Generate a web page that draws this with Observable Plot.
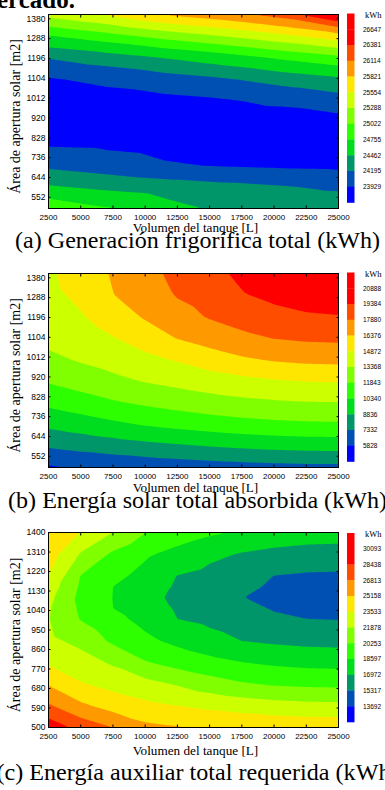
<!DOCTYPE html>
<html><head><meta charset="utf-8">
<script src="https://cdn.jsdelivr.net/npm/d3@7"></script>
<script src="https://cdn.jsdelivr.net/npm/@observablehq/plot@0.6"></script>
<style>
body{margin:0;background:#fff;}
#root{position:relative;width:385px;height:790px;overflow:hidden;background:#fff;}
#overlay{position:absolute;left:0;top:0;pointer-events:none;}
</style></head><body><div id="root"></div>
<script>
// ---------- data ----------
const volumesA = [2500, 7000, 11500, 16000, 20500, 25000];                              // Volumen del tanque [L] (panel a)
const volumes = [2500, 5000, 7500, 10000, 12500, 15000, 17500, 20000, 22500, 25000];   // Volumen del tanque [L] (panels b, c)
const areas = [500, 600, 700, 800, 900, 1000, 1100, 1200, 1300, 1400];                 // Área de apertura solar [m2] (panels a, b)
const areasC = [500, 600, 700, 800, 900, 1000, 1050, 1100, 1150, 1200, 1300, 1400];    // Área de apertura solar [m2] (panel c)

// (a) Generación frigorífica total (kWh) – rows by area, columns by volumesA
const genFrio = [
  [24978, 24780, 24580, 24400, 24390, 24380],
  [24490, 24400, 24330, 24270, 24215, 24150],
  [24136, 24050, 23955, 23910, 23885, 23870],
  [23897, 23880, 23840, 23800, 23770, 23757],
  [23779, 23770, 23765, 23770, 23790, 23830],
  [23783, 23820, 23860, 23905, 23980, 24070],
  [23908, 23990, 24080, 24170, 24290, 24413],
  [24210, 24330, 24475, 24620, 24800, 24960],
  [24740, 24920, 25120, 25290, 25480, 25707],
  [25380, 25580, 25840, 26000, 26230, 26700]
];
// (b) Energía solar total absorbida (kWh) – rows by area, columns by volumes
const solarAbs = [
  [5640, 5993, 6137, 6299, 6455, 6607, 6742, 6841, 6925, 6948],
  [7501, 7815, 8122, 8401, 8653, 8885, 9095, 9274, 9383, 9421],
  [9165, 9588, 10047, 10457, 10794, 11092, 11329, 11500, 11609, 11648],
  [10673, 11172, 11671, 12079, 12430, 12743, 12991, 13173, 13286, 13319],
  [11967, 12476, 12993, 13440, 13794, 14153, 14467, 14719, 14891, 14950],
  [13005, 13517, 13961, 14463, 15003, 15632, 16161, 16518, 16715, 16778],
  [13800, 14139, 14797, 15588, 16430, 17012, 17537, 17921, 18114, 18178],
  [14270, 14760, 15570, 16532, 17331, 17997, 18475, 18937, 19228, 19327],
  [14550, 15152, 16338, 16990, 17982, 18466, 19279, 19724, 20002, 20098],
  [14644, 15493, 16540, 17448, 18243, 18935, 19700, 20330, 20720, 20850]
];
// (c) Energía auxiliar total requerida (kWh) – rows by areasC, columns by volumes
const auxReq = [
  [29470, 27900, 26813, 25560, 25250, 25100, 24985, 24820, 24700, 24680],
  [27035, 25489, 24508, 23951, 23540, 23159, 22802, 22522, 22351, 22286],
  [25052, 23673, 23020, 22409, 21755, 21003, 20431, 20093, 19929, 19875],
  [23330, 22587, 21652, 20369, 19644, 19082, 18632, 18317, 18128, 18067],
  [22270, 21412, 19965, 18953, 18197, 17519, 16960, 16715, 16537, 16478],
  [21950, 20173, 19065, 18118, 16980, 16604, 16182, 15597, 15330, 15275],
  [22070, 20000, 18600, 17794, 16806, 16316, 15790, 15194, 14977, 14923],
  [22370, 19830, 18570, 17470, 16640, 16000, 15365, 14900, 14560, 14510],
  [22861, 20020, 18597, 17778, 16787, 16254, 15705, 15081, 14817, 14761],
  [23530, 20207, 19054, 18086, 16940, 16537, 16089, 15300, 15137, 15088],
  [24384, 21727, 19969, 18842, 18059, 17318, 16857, 16510, 16286, 16213],
  [25250, 23447, 21878, 20300, 19506, 18858, 18396, 18055, 17847, 17780]
];

const levelsA = [23929, 24195, 24462, 24755, 25022, 25288, 25554, 25821, 26114, 26381, 26647];
const levelsB = [5828, 7332, 8836, 10340, 11843, 13368, 14872, 16376, 17880, 19384, 20888];
const levelsC = [13692, 15317, 16972, 18597, 20253, 21878, 23533, 25158, 26813, 28438, 30093];

const xTicks = [2500, 5000, 7500, 10000, 12500, 15000, 17500, 20000, 22500, 25000];
const yTicksAB = [552, 644, 736, 828, 920, 1012, 1104, 1196, 1288, 1380];
const yTicksC = [500, 590, 680, 770, 860, 950, 1040, 1130, 1220, 1310, 1400];

const bandColors = ["#0000ff", "#0050b4", "#00966a", "#00dc1e", "#2eff00", "#80ff00",
                    "#ccff00", "#ffe600", "#ff9900", "#ff4d00", "#ff0000", "#ff0000"];

const captions = ["(a) Generación frigorífica total (kWh)",
                  "(b) Energía solar total absorbida (kWh)",
                  "(c) Energía auxiliar total requerida (kWh)"];
const xTitle = "Volumen del tanque [L]";
const yTitle = "Área de apertura solar [m2]";
const unit = "kWh";

// ---------- layout ----------
const root = document.getElementById("root");
const panels = [
  {values: genFrio, vols: volumesA, ars: areas, levels: levelsA, yTicks: yTicksAB, top: 14, h: 194, xt: 232, cap: 248.3, capW: 365, leg: 13.5},
  {values: solarAbs, vols: volumes, ars: areas, levels: levelsB, yTicks: yTicksAB, top: 273, h: 194, xt: 491.5, cap: 508, capW: 379, leg: 272.5},
  {values: auxReq, vols: volumes, ars: areasC, levels: levelsC, yTicks: yTicksC, top: 532, h: 195, xt: 755, cap: 780, capW: 402, leg: 533}
];

panels.forEach((p) => {
  const pts = [];
  p.ars.forEach((a, i) => p.vols.forEach((v, j) => pts.push({V: v, A: a, E: p.values[i][j]})));
  const blank = () => "";
  const svg = Plot.plot({
    width: 340, height: 5 + p.h + 20,
    marginLeft: 48, marginRight: 2, marginTop: 5, marginBottom: 20,
    x: {domain: [2500, 25000]},
    y: {domain: [500, 1400]},
    color: {type: "threshold", domain: p.levels, range: bandColors},
    style: {fontFamily: "'Liberation Sans', Arial, sans-serif", fontSize: "8px", color: "#000", background: "transparent", overflow: "visible"},
    marks: [
      Plot.contour(pts, {x: "V", y: "A", fill: "E", interpolate: "barycentric",
                         thresholds: [0, ...p.levels], stroke: "none"}),
      Plot.frame({stroke: "#000", strokeWidth: 1}),
      Plot.axisX({ticks: xTicks, tickSize: 0, tickPadding: 6, label: null, tickFormat: d => String(d)}),
      Plot.axisY({ticks: p.yTicks, tickSize: 0, tickPadding: 3, label: null, tickFormat: d => String(d), fontSize: 8.5}),
      Plot.axisX({anchor: "top", ticks: xTicks, tickSize: -2.5, label: null, tickFormat: blank}),
      Plot.axisX({anchor: "bottom", ticks: xTicks, tickSize: -2.5, label: null, tickFormat: blank}),
      Plot.axisY({anchor: "left", ticks: p.yTicks, tickSize: -2.5, label: null, tickFormat: blank}),
      Plot.axisY({anchor: "right", ticks: p.yTicks, tickSize: -2.5, label: null, tickFormat: blank})
    ]
  });
  svg.style.position = "absolute";
  svg.style.left = "0px";
  svg.style.top = (p.top - 5) + "px";
  svg.style.maxWidth = "none";
  root.appendChild(svg);
});

// overlay with titles, captions and legends
const ov = d3.select(root).append("svg").attr("id", "overlay").attr("width", 385).attr("height", 790);
const serif = "'Liberation Serif', 'Times New Roman', serif";

ov.append("text").attr("x", -3).attr("y", 7.5).attr("font-family", serif).attr("font-weight", "bold")
  .attr("font-size", 25).text("ercado.");

panels.forEach((p, k) => {
  ov.append("text").attr("x", 195.5).attr("y", p.xt).attr("text-anchor", "middle")
    .attr("font-family", serif).attr("font-size", 12).attr("textLength", 125.6)
    .attr("lengthAdjust", "spacingAndGlyphs").text(xTitle);
  ov.append("text").attr("transform", `translate(20,${p.top + p.h / 2 + 5.5}) rotate(-90)`)
    .attr("text-anchor", "middle").attr("font-family", serif).attr("font-size", 14).text(yTitle);
  ov.append("text").attr("x", 197.5).attr("y", p.cap).attr("text-anchor", "middle")
    .attr("font-family", serif).attr("font-size", 22.6).attr("textLength", p.capW)
    .attr("lengthAdjust", "spacingAndGlyphs").text(captions[k]);

  // colour bar legend
  const seg = 15.75;
  const g = ov.append("g");
  const cols = bandColors.slice().reverse();
  cols.forEach((c, i) => {
    g.append("rect").attr("x", 347).attr("y", p.leg + i * seg).attr("width", 7.5).attr("height", seg + 0.3).attr("fill", c);
  });
  const labs = p.levels.slice().reverse();
  labs.forEach((v, i) => {
    g.append("text").attr("x", 363).attr("y", p.leg + seg * (i + 1)).attr("dy", "0.35em")
      .attr("font-family", "'Liberation Sans', Arial, sans-serif").attr("font-size", 6.5).text(v);
  });
  g.append("text").attr("x", 365).attr("y", p.leg + 1.5).attr("dy", "0.35em")
    .attr("font-family", serif).attr("font-size", 8.5).text(unit);
});
</script>
</body></html>
